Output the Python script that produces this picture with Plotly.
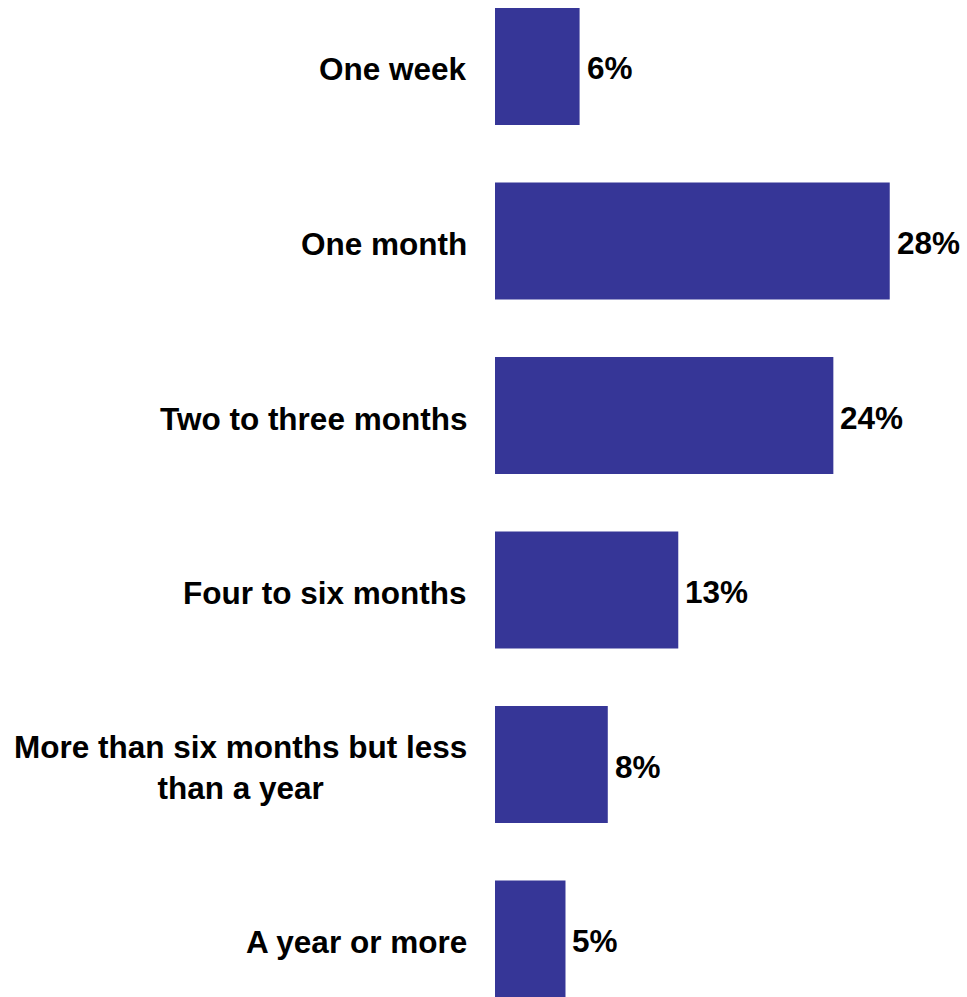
import plotly.graph_objects as go

# Survey responses: share of respondents per time period
categories = [
    "One week",
    "One month",
    "Two to three months",
    "Four to six months",
    "More than six months but less<br>than a year",
    "A year or more",
]
values = [6, 28, 24, 13, 8, 5]

bar_color = "#363697"
font_family = "Arial, 'Liberation Sans', sans-serif"
label_size = 31.5

fig = go.Figure(
    go.Bar(
        x=values,
        y=categories,
        orientation="h",
        marker=dict(color=bar_color, line=dict(width=0)),
        hoverinfo="skip",
    )
)

# Category labels, centred per line and right-anchored next to the bars
for cat in categories:
    fig.add_annotation(
        text=f"<b>{cat}</b>",
        xref="paper", x=0, xanchor="right", xshift=-26,
        yref="y", y=cat, yanchor="middle", yshift=-3,
        align="center", showarrow=False,
        font=dict(family=font_family, size=label_size, color="black"),
    )

# Value labels just past the end of each bar
for cat, val in zip(categories, values):
    fig.add_annotation(
        text=f"<b>{val}%</b>",
        xref="x", x=val, xanchor="left", xshift=5,
        yref="y", y=cat, yanchor="middle", yshift=-2,
        showarrow=False,
        font=dict(family=font_family, size=label_size, color="black"),
    )

fig.update_layout(
    width=967,
    height=997,
    margin=dict(l=495, r=0, t=0, b=0),
    paper_bgcolor="white",
    plot_bgcolor="white",
    bargap=0.33,
    showlegend=False,
    xaxis=dict(range=[0, 33.48], visible=False, fixedrange=True),
    yaxis=dict(
        type="category",
        categoryorder="array",
        categoryarray=categories,
        range=[5.332, -0.381],
        showticklabels=False,
        showgrid=False,
        zeroline=False,
        showline=False,
        ticks="",
        fixedrange=True,
    ),
)

fig.write_html("out.html", config={"displayModeBar": False})
